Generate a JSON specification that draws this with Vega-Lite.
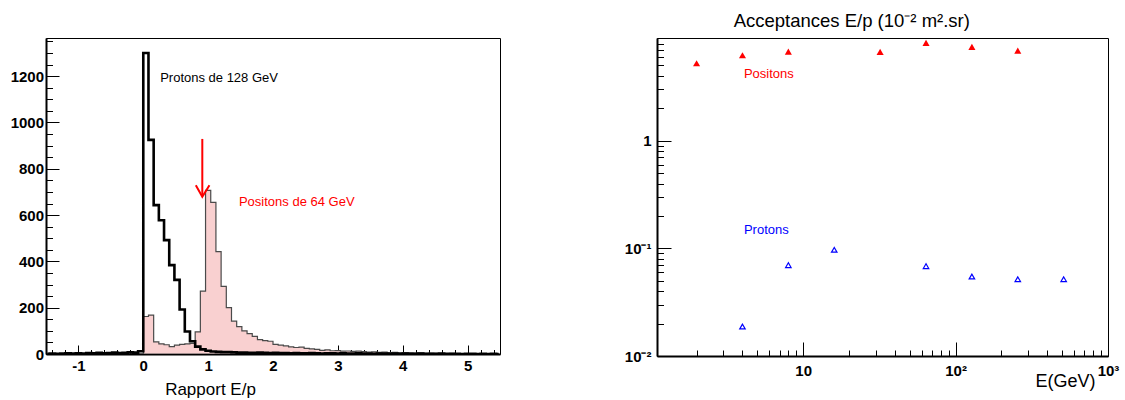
{
  "$schema": "https://vega.github.io/schema/vega-lite/v6.json",
  "background": "white",
  "padding": {"left": 9, "top": 11, "right": 5, "bottom": 0},
  "title": {"text": "Acceptances E/p (10⁻² m².sr)", "anchor": "start", "dx": 724, "fontSize": 18.5, "fontWeight": "normal", "font": "Liberation Sans", "color": "black", "offset": 7},
  "config": {
    "font": "Liberation Sans",
    "view": {"stroke": "black", "strokeWidth": 1},
    "axis": {"grid": false, "labelFlush": false, "labelOverlap": false, "domainColor": "black", "domainWidth": 2, "tickColor": "black", "tickWidth": 1, "labelFont": "Liberation Sans", "labelFontWeight": "bold", "labelFontSize": 15, "labelColor": "black", "titleColor": "black", "titleFont": "Liberation Sans", "titleFontWeight": "normal"}
  },
  "datasets": {
    "pro": [
      {"e": -1.48, "n": 1}, {"e": -1.40, "n": 2}, {"e": -1.32, "n": 1}, {"e": -1.24, "n": 2}, {"e": -1.16, "n": 3}, {"e": -1.08, "n": 2}, {"e": -1.00, "n": 3}, {"e": -0.92, "n": 2}, {"e": -0.84, "n": 4}, {"e": -0.76, "n": 3}, {"e": -0.68, "n": 5}, {"e": -0.60, "n": 3}, {"e": -0.52, "n": 4}, {"e": -0.44, "n": 6}, {"e": -0.36, "n": 4}, {"e": -0.28, "n": 5}, {"e": -0.20, "n": 7}, {"e": -0.12, "n": 6}, {"e": -0.04, "n": 12},
      {"e": 0.04, "n": 1300}, {"e": 0.12, "n": 925}, {"e": 0.20, "n": 643}, {"e": 0.28, "n": 578}, {"e": 0.36, "n": 492}, {"e": 0.44, "n": 384}, {"e": 0.52, "n": 320}, {"e": 0.60, "n": 192}, {"e": 0.68, "n": 97}, {"e": 0.76, "n": 55}, {"e": 0.84, "n": 32}, {"e": 0.92, "n": 20}, {"e": 1.00, "n": 14}, {"e": 1.08, "n": 11}, {"e": 1.16, "n": 9}, {"e": 1.24, "n": 8}, {"e": 1.32, "n": 8}, {"e": 1.40, "n": 7}, {"e": 1.48, "n": 6}, {"e": 1.56, "n": 6}, {"e": 1.64, "n": 5}, {"e": 1.72, "n": 5}, {"e": 1.80, "n": 6}, {"e": 1.88, "n": 5}, {"e": 1.96, "n": 4}, {"e": 2.04, "n": 5}, {"e": 2.12, "n": 4}, {"e": 2.20, "n": 4}, {"e": 2.28, "n": 3}, {"e": 2.36, "n": 4}, {"e": 2.44, "n": 3}, {"e": 2.52, "n": 3}, {"e": 2.60, "n": 4}, {"e": 2.68, "n": 3}, {"e": 2.76, "n": 2}, {"e": 2.84, "n": 3}, {"e": 2.92, "n": 3}, {"e": 3.00, "n": 2}, {"e": 3.08, "n": 3}, {"e": 3.16, "n": 2}, {"e": 3.24, "n": 2}, {"e": 3.32, "n": 3}, {"e": 3.40, "n": 2}, {"e": 3.48, "n": 2}, {"e": 3.56, "n": 1}, {"e": 3.64, "n": 2}, {"e": 3.72, "n": 2}, {"e": 3.80, "n": 1}, {"e": 3.88, "n": 2}, {"e": 3.96, "n": 1}, {"e": 4.04, "n": 2}, {"e": 4.12, "n": 1}, {"e": 4.20, "n": 1}, {"e": 4.28, "n": 2}, {"e": 4.36, "n": 1}, {"e": 4.44, "n": 1}, {"e": 4.52, "n": 1}, {"e": 4.60, "n": 2}, {"e": 4.68, "n": 1}, {"e": 4.76, "n": 1}, {"e": 4.84, "n": 1}, {"e": 4.92, "n": 0}, {"e": 5.00, "n": 1}, {"e": 5.08, "n": 1}, {"e": 5.16, "n": 0}, {"e": 5.24, "n": 1}, {"e": 5.32, "n": 0}, {"e": 5.40, "n": 1}, {"e": 5.48, "n": 0}
    ],
    "pos": [
      {"e": -1.48, "n": 0}, {"e": -1.40, "n": 0}, {"e": -1.32, "n": 0}, {"e": -1.24, "n": 0}, {"e": -1.16, "n": 0}, {"e": -1.08, "n": 0}, {"e": -1.00, "n": 0}, {"e": -0.92, "n": 0}, {"e": -0.84, "n": 0}, {"e": -0.76, "n": 0}, {"e": -0.68, "n": 0}, {"e": -0.60, "n": 0}, {"e": -0.52, "n": 0}, {"e": -0.44, "n": 0}, {"e": -0.36, "n": 0}, {"e": -0.28, "n": 0}, {"e": -0.20, "n": 0}, {"e": -0.12, "n": 0}, {"e": -0.04, "n": 1},
      {"e": 0.04, "n": 162}, {"e": 0.12, "n": 168}, {"e": 0.20, "n": 52}, {"e": 0.28, "n": 44}, {"e": 0.36, "n": 40}, {"e": 0.44, "n": 32}, {"e": 0.52, "n": 38}, {"e": 0.60, "n": 42}, {"e": 0.68, "n": 44}, {"e": 0.76, "n": 46}, {"e": 0.84, "n": 96}, {"e": 0.92, "n": 272}, {"e": 1.00, "n": 707}, {"e": 1.08, "n": 655}, {"e": 1.16, "n": 442}, {"e": 1.24, "n": 292}, {"e": 1.32, "n": 200}, {"e": 1.40, "n": 142}, {"e": 1.48, "n": 118}, {"e": 1.56, "n": 100}, {"e": 1.64, "n": 88}, {"e": 1.72, "n": 76}, {"e": 1.80, "n": 62}, {"e": 1.88, "n": 58}, {"e": 1.96, "n": 55}, {"e": 2.04, "n": 42}, {"e": 2.12, "n": 38}, {"e": 2.20, "n": 35}, {"e": 2.28, "n": 31}, {"e": 2.36, "n": 28}, {"e": 2.44, "n": 30}, {"e": 2.52, "n": 24}, {"e": 2.60, "n": 22}, {"e": 2.68, "n": 20}, {"e": 2.76, "n": 16}, {"e": 2.84, "n": 18}, {"e": 2.92, "n": 14}, {"e": 3.00, "n": 15}, {"e": 3.08, "n": 12}, {"e": 3.16, "n": 13}, {"e": 3.24, "n": 11}, {"e": 3.32, "n": 12}, {"e": 3.40, "n": 10}, {"e": 3.48, "n": 8}, {"e": 3.56, "n": 9}, {"e": 3.64, "n": 7}, {"e": 3.72, "n": 8}, {"e": 3.80, "n": 6}, {"e": 3.88, "n": 7}, {"e": 3.96, "n": 5}, {"e": 4.04, "n": 6}, {"e": 4.12, "n": 5}, {"e": 4.20, "n": 4}, {"e": 4.28, "n": 5}, {"e": 4.36, "n": 3}, {"e": 4.44, "n": 4}, {"e": 4.52, "n": 3}, {"e": 4.60, "n": 3}, {"e": 4.68, "n": 2}, {"e": 4.76, "n": 3}, {"e": 4.84, "n": 2}, {"e": 4.92, "n": 2}, {"e": 5.00, "n": 1}, {"e": 5.08, "n": 2}, {"e": 5.16, "n": 1}, {"e": 5.24, "n": 1}, {"e": 5.32, "n": 1}, {"e": 5.40, "n": 0}, {"e": 5.48, "n": 1}
    ],
    "arrowShaft": [{"x": 0.91, "y1": 929, "y2": 683}],
    "arrowHead": [{"x": 0.81, "y": 729, "k": 1}, {"x": 0.91, "y": 679, "k": 2}, {"x": 1.02, "y": 729, "k": 3}],
    "leftText": [
      {"x": 0.26, "y": 1194, "t": "Protons de 128 GeV", "c": "black"},
      {"x": 1.475, "y": 657, "t": "Positons de 64 GeV", "c": "red"}
    ],
    "acc": [
      {"E": 2, "A": 5.25, "p": "Positons"}, {"E": 4, "A": 6.23, "p": "Positons"}, {"E": 8, "A": 6.73, "p": "Positons"}, {"E": 32, "A": 6.68, "p": "Positons"}, {"E": 64, "A": 8.11, "p": "Positons"}, {"E": 128, "A": 7.44, "p": "Positons"}, {"E": 256, "A": 6.87, "p": "Positons"}
    ],
    "accP": [
      {"E": 4, "A": 0.0188, "p": "Protons"}, {"E": 8, "A": 0.0698, "p": "Protons"}, {"E": 16, "A": 0.0969, "p": "Protons"}, {"E": 64, "A": 0.0683, "p": "Protons"}, {"E": 128, "A": 0.0548, "p": "Protons"}, {"E": 256, "A": 0.0517, "p": "Protons"}, {"E": 512, "A": 0.0517, "p": "Protons"}
    ],
    "rightText": [
      {"x": 4.09, "y": 4.17, "t": "Positons", "c": "red"},
      {"x": 4.09, "y": 0.1477, "t": "Protons", "c": "blue"}
    ]
  },
  "hconcat": [
    {
      "width": 454,
      "height": 316,
      "layer": [
        {
          "data": {"name": "pos"},
          "mark": {"type": "area", "interpolate": "step", "fill": "#f9d0d0", "stroke": "#4a4a4a", "strokeWidth": 1.2, "clip": true},
          "encoding": {
            "x": {"field": "e", "type": "quantitative", "scale": {"domain": [-1.5, 5.5], "nice": false, "zero": false},
              "axis": {"orient": "bottom", "values": [-1, 0, 1, 2, 3, 4, 5], "labelExpr": "'' + datum.value", "tickSize": -9, "labelPadding": 13, "title": "Rapport E/p", "titleFontSize": 17, "titleX": 164, "titleY": 40, "titleAlign": "center", "titleBaseline": "alphabetic"}},
            "y": {"field": "n", "type": "quantitative", "scale": {"domain": [0, 1365], "nice": false},
              "axis": {"orient": "left", "values": [0, 200, 400, 600, 800, 1000, 1200], "labelExpr": "'' + datum.value", "tickSize": -13, "labelPadding": 15.5, "title": null}}
          }
        },
        {
          "data": {"name": "pro"},
          "mark": {"type": "line", "interpolate": "step", "stroke": "black", "strokeWidth": 2.6, "clip": true},
          "encoding": {
            "x": {"field": "e", "type": "quantitative",
              "axis": {"orient": "bottom", "values": [-1.4, -1.2, -0.8, -0.6, -0.4, -0.2, 0.2, 0.4, 0.6, 0.8, 1.2, 1.4, 1.6, 1.8, 2.2, 2.4, 2.6, 2.8, 3.2, 3.4, 3.6, 3.8, 4.2, 4.4, 4.6, 4.8, 5.2, 5.4], "tickSize": -4.5, "labels": false, "domain": false, "title": null}},
            "y": {"field": "n", "type": "quantitative",
              "axis": {"orient": "left", "values": [50, 100, 150, 250, 300, 350, 450, 500, 550, 650, 700, 750, 850, 900, 950, 1050, 1100, 1150, 1250, 1300, 1350], "tickSize": -6.5, "labels": false, "domain": false, "title": null}}
          }
        },
        {
          "data": {"name": "arrowShaft"},
          "mark": {"type": "rule", "stroke": "red", "strokeWidth": 2},
          "encoding": {
            "x": {"field": "x", "type": "quantitative", "axis": null},
            "y": {"field": "y1", "type": "quantitative", "axis": null},
            "y2": {"field": "y2"}
          }
        },
        {
          "data": {"name": "arrowHead"},
          "mark": {"type": "line", "stroke": "red", "strokeWidth": 2},
          "encoding": {
            "x": {"field": "x", "type": "quantitative", "axis": null},
            "y": {"field": "y", "type": "quantitative", "axis": null},
            "order": {"field": "k"}
          }
        },
        {
          "data": {"name": "leftText"},
          "mark": {"type": "text", "align": "left", "baseline": "middle", "fontSize": 13, "font": "Liberation Sans"},
          "encoding": {
            "x": {"field": "x", "type": "quantitative", "axis": null},
            "y": {"field": "y", "type": "quantitative", "axis": null},
            "text": {"field": "t"},
            "color": {"field": "c", "type": "nominal", "scale": null}
          }
        }
      ],
      "resolve": {"axis": {"x": "independent", "y": "independent"}}
    },
    {
      "width": 451,
      "height": 318,
      "layer": [
        {
          "data": {"name": "acc"},
          "mark": {"type": "point", "shape": "triangle-up", "filled": true, "color": "red", "size": 50, "opacity": 1},
          "encoding": {
            "x": {"field": "E", "type": "quantitative", "scale": {"type": "log", "domain": [1.1, 1000], "nice": false},
              "axis": {"orient": "bottom", "values": [10, 100, 1000], "labelExpr": "datum.value < 50 ? '10' : datum.value < 500 ? '10²' : '10³'", "tickSize": -14, "labelPadding": 21, "title": "E(GeV)", "titleFontSize": 18, "titleX": 438, "titleY": 30, "titleAlign": "right", "titleBaseline": "alphabetic"}},
            "y": {"field": "A", "type": "quantitative", "scale": {"type": "log", "domain": [0.01, 9], "nice": false},
              "axis": {"orient": "left", "values": [0.01, 0.1, 1], "labelExpr": "datum.value < 0.05 ? '10⁻²' : datum.value < 0.5 ? '10⁻¹' : '1'", "tickSize": -14, "labelPadding": 20, "title": null}}
          }
        },
        {
          "data": {"name": "accP"},
          "mark": {"type": "point", "shape": "triangle-up", "filled": false, "color": "blue", "size": 30, "strokeWidth": 1.2, "opacity": 1},
          "encoding": {
            "x": {"field": "E", "type": "quantitative",
              "axis": {"orient": "bottom", "values": [2, 3, 4, 5, 6, 7, 8, 9, 20, 30, 40, 50, 60, 70, 80, 90, 200, 300, 400, 500, 600, 700, 800, 900], "tickSize": -6, "labels": false, "domain": false, "title": null}},
            "y": {"field": "A", "type": "quantitative",
              "axis": {"orient": "left", "values": [0.02, 0.03, 0.04, 0.05, 0.06, 0.07, 0.08, 0.09, 0.2, 0.3, 0.4, 0.5, 0.6, 0.7, 0.8, 0.9, 2, 3, 4, 5, 6, 7, 8, 9], "tickSize": -6.5, "labels": false, "domain": false, "title": null}}
          }
        },
        {
          "data": {"name": "rightText"},
          "mark": {"type": "text", "align": "left", "baseline": "middle", "fontSize": 13, "font": "Liberation Sans"},
          "encoding": {
            "x": {"field": "x", "type": "quantitative", "axis": null},
            "y": {"field": "y", "type": "quantitative", "axis": null},
            "text": {"field": "t"},
            "color": {"field": "c", "type": "nominal", "scale": null}
          }
        }
      ],
      "resolve": {"axis": {"x": "independent", "y": "independent"}}
    }
  ],
  "spacing": 122
}
